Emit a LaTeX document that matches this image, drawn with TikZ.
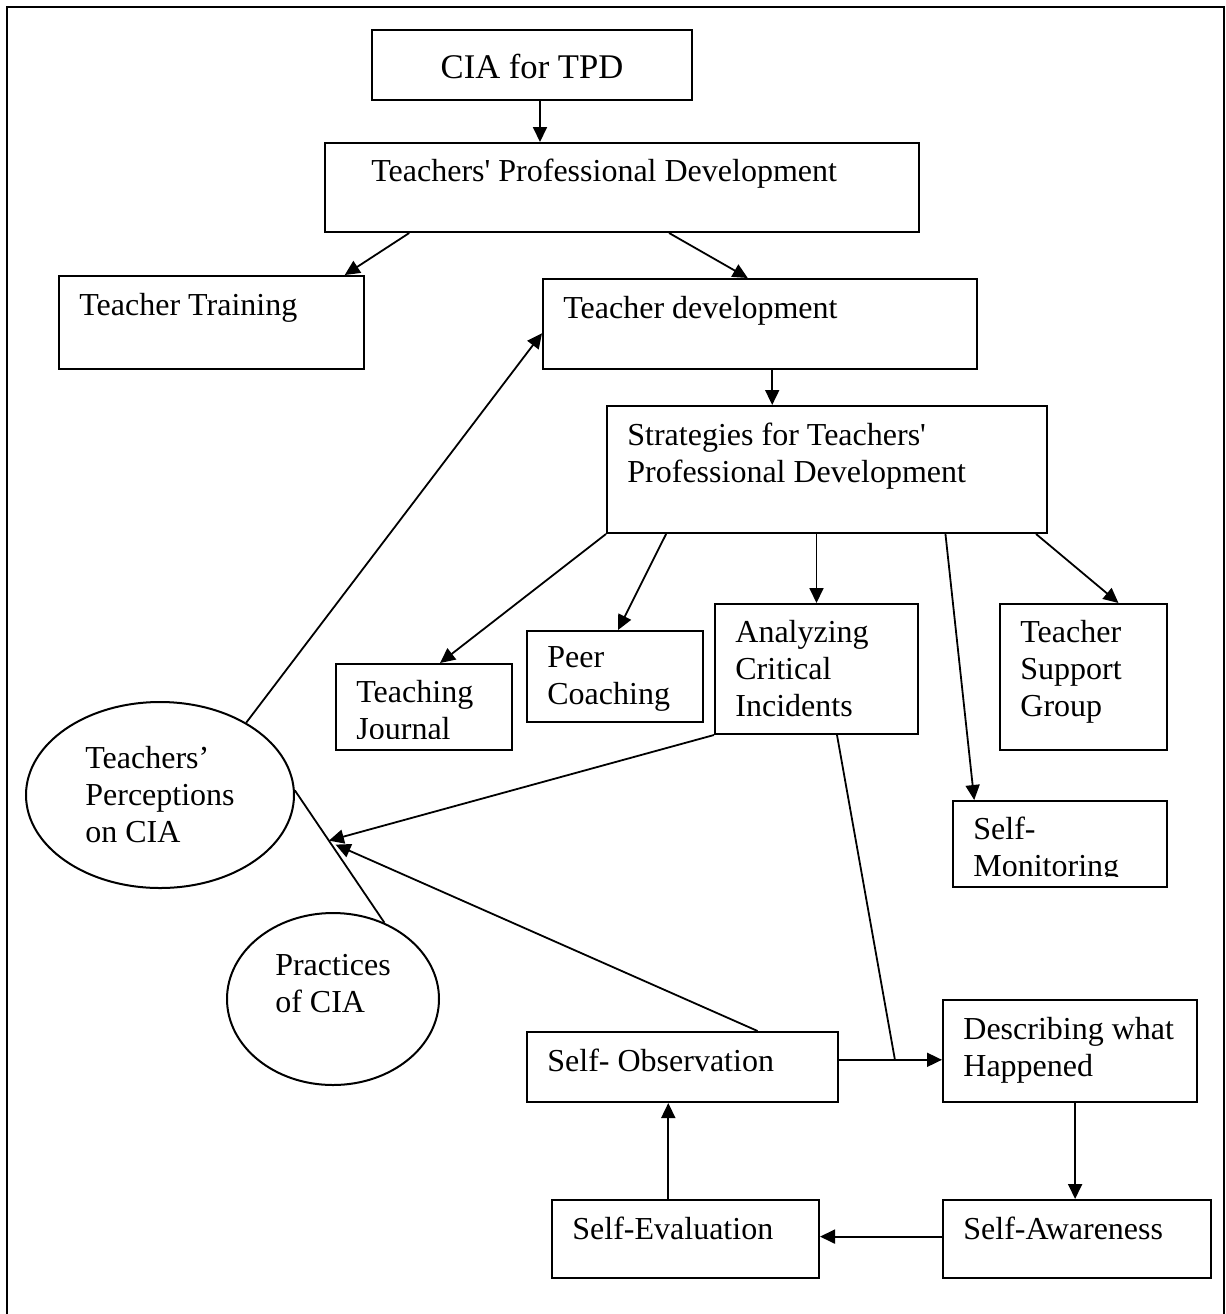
\documentclass[tikz,border=0pt]{standalone}
\usepackage{fontspec}
\setmainfont{Liberation Serif}
\usetikzlibrary{arrows.meta,positioning,shapes.geometric,calc,fit}
\newcommand{\bodysize}{\fontsize{16pt}{18.5pt}\selectfont}
\newcommand{\titlesize}{\fontsize{17.3pt}{20pt}\selectfont}
\newcommand{\sq}{\textquotesingle}
\tikzset{
  block/.style={rectangle, draw=black, line width=1pt, inner sep=0pt},
  oval/.style={ellipse, draw=black, line width=1pt, inner sep=0pt,
               align=left, font=\bodysize},
  txt/.style={anchor=base west, inner sep=0pt, align=left, font=\bodysize,
              xshift=10.5pt, yshift=-20pt},
  % base of a multi-line text is its last line
  two/.style={yshift=-18.5pt},
  three/.style={yshift=-37pt},
  arrow/.style={-{Triangle[length=7.5pt,width=7pt]}, line width=0.9pt},
  link/.style={line width=0.9pt},
}

\begin{document}
\begin{tikzpicture}[x=0.5pt, y=-0.5pt]
  \useasboundingbox (0,0) rectangle (1226,1314);
  % frame, open at the bottom
  \draw[line width=1.1pt] (7,1314) -- (7,7) -- (1224,7) -- (1224,1314);
  % boxes
  \node[block, fit={(372,30) (692,100)},
        label={[font=\titlesize, yshift=-0.5pt]center:CIA for TPD}] (cia) {};
  \node[block, fit={(325,143) (919,232)},
        label={[txt, xshift=13pt, yshift=0.5pt]north west:Teachers\sq{} Professional Development}] (tpd) {};
  \node[block, fit={(59,276) (364,369)}, label={[txt]north west:Teacher Training}] (training) {};
  \node[block, fit={(543,279) (977,369)}, label={[txt]north west:Teacher development}] (tdev) {};
  \node[block, fit={(607,406) (1047,533)},
        label={[txt, two]north west:Strategies for Teachers\sq\\Professional Development}] (strat) {};
  \node[block, fit={(336,664) (512,750)}] (journal) {};
  \node[block, fit={(527,631) (703,722)}, label={[txt, two, yshift=1.5pt]north west:Peer\\Coaching}] (peer) {};
  \node[block, fit={(715,604) (918,734)},
        label={[txt, three, yshift=0.5pt]north west:Analyzing\\Critical\\Incidents}] (an) {};
  \node[block, fit={(1000,604) (1167,750)},
        label={[txt, three, yshift=0.5pt]north west:Teacher\\Support\\Group}] (sup) {};
  \node[block, fit={(953,801) (1167,887)}] (mon) {};
  \node[block, fit={(527,1032) (838,1102)}, label={[txt]north west:Self- Observation}] (so) {};
  \node[block, fit={(943,1000) (1197,1102)}, label={[txt, two]north west:Describing what\\Happened}] (desc) {};
  \node[block, fit={(943,1200) (1211,1278)}, label={[txt]north west:Self-Awareness}] (aware) {};
  \node[block, fit={(552,1200) (819,1278)}, label={[txt]north west:Self-Evaluation}] (eval) {};
  % texts cut off by their boxes
  \begin{scope}
    \clip (journal.north west) rectangle ($(journal.south east)+(0,-13)$);
    \node[txt, two, yshift=0.5pt] (journaltext) at (journal.north west) {Teaching\\Journal};
  \end{scope}
  \begin{scope}
    \clip (mon.north west) rectangle ($(mon.south east)+(0,-12)$);
    \node[txt, two, yshift=0.5pt] (montext) at (mon.north west) {Self-\\Monitoring};
  \end{scope}
  % ellipses
  \node[oval, minimum width=134pt, minimum height=93pt] (perc) at (160,795) {Teachers'\\Perceptions\\on CIA};
  \node[oval, minimum width=106pt, minimum height=86pt,
        label={[font=\bodysize, align=left, yshift=7.5pt]center:Practices\\of CIA}] (prac) at (333,999) {};
  % top part
  \coordinate (c1) at ($(cia.south)+(8,0)$);
  \draw[arrow] (c1) -- (c1 |- tpd.north);
  \draw[arrow] ($(tpd.south west)!0.143!(tpd.south east)$) -- ($(training.north west)!0.934!(training.north east)$);
  \draw[arrow] ($(tpd.south west)!0.579!(tpd.south east)$) -- ($(tdev.north west)!0.472!(tdev.north east)$);
  \coordinate (c2) at ($(tdev.south west)!0.528!(tdev.south east)$);
  \draw[arrow] (c2) -- (c2 |- strat.north);
  % strategies
  \draw[arrow] (strat.south west) -- ($(journal.north west)!0.59!(journal.north east)$);
  \draw[arrow] ($(strat.south west)!0.136!(strat.south east)$) -- ($(peer.north west)!0.517!(peer.north east)$);
  \draw[arrow] (an.north |- strat.south) -- (an.north);
  \draw[arrow] ($(strat.south west)!0.768!(strat.south east)$) -- ($(mon.north west)!0.103!(mon.north east)$);
  \draw[arrow] ($(strat.south west)!0.973!(strat.south east)$) -- ($(sup.north west)!0.707!(sup.north east)$);
  % perceptions and practices
  \draw[arrow] (perc.40) -- ($(tdev.north west)!0.6!(tdev.south west)$);
  \draw[link] (perc.2) -- (prac.56);
  \coordinate (meet) at ($(perc.2)!0.38!(prac.56)$);
  \coordinate (meetb) at ($(perc.2)!0.41!(prac.56)+(4,0)$);
  \draw[arrow] (an.south west) -- (meet);
  \draw[arrow] ($(so.north west)!0.74!(so.north east)$) -- (meetb);
  % observation cycle
  \coordinate (c3) at ($(so.north east)!0.4!(so.south east)$);
  \coordinate (c4) at (c3 -| desc.west);
  \draw[arrow] (c3) -- (c4);
  \draw[link] ($(an.south west)!0.6!(an.south east)$) -- ($(c3)!0.543!(c4)$);
  \coordinate (c5) at ($(desc.south west)!0.52!(desc.south east)$);
  \draw[arrow] (c5) -- (c5 |- aware.north);
  \coordinate (c6) at ($(aware.north west)!0.47!(aware.south west)$);
  \draw[arrow] (c6) -- (c6 -| eval.east);
  \coordinate (c7) at ($(eval.north west)!0.436!(eval.north east)$);
  \draw[arrow] (c7) -- (c7 |- so.south);
\end{tikzpicture}
\end{document}
